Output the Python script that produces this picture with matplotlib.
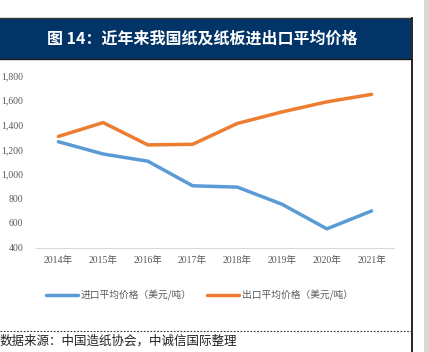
import matplotlib
matplotlib.use("Agg")
import matplotlib.pyplot as plt
from matplotlib.patches import Rectangle
from matplotlib.lines import Line2D

years = ["2014年", "2015年", "2016年", "2017年", "2018年", "2019年", "2020年", "2021年"]
import_price = [1262, 1162, 1103, 903, 892, 752, 552, 698]
export_price = [1305, 1418, 1236, 1241, 1411, 1505, 1587, 1648]
import_label = "进口平均价格（美元/吨）"
export_label = "出口平均价格（美元/吨）"
title = "图 14：近年来我国纸及纸板进出口平均价格"
source = "数据来源：中国造纸协会，中诚信国际整理"

W, H = 429, 352
fig = plt.figure(figsize=(W / 100, H / 100), dpi=100)
fig.patch.set_facecolor("white")

def fx(x):
    return x / W

def fy(y):
    return 1 - y / H

cjk = ["Liberation Serif", "Noto Sans CJK SC"]
gray = "#595959"

# header band
fig.add_artist(Rectangle((fx(0), fy(58.5)), fx(411), 40.5 / H,
                         transform=fig.transFigure, facecolor="#023467",
                         edgecolor="none"))
fig.add_artist(Line2D([fx(0), fx(411)], [fy(18.3), fy(18.3)], color="#3a3a3a", lw=1))
fig.add_artist(Line2D([fx(0), fx(411)], [fy(58.5), fy(58.5)], color="#1a1a1a", lw=1))
fig.text(fx(202), fy(38.5), title, color="white", fontsize=11.5, fontweight="bold",
         ha="center", va="center", family=["Noto Sans CJK SC"])

# frame lines on the right and the source separator
fig.add_artist(Line2D([fx(411.5), fx(411.5)], [fy(18), fy(352)], color="black", lw=1.2))
fig.add_artist(Rectangle((fx(424), 0), fx(5), 1, transform=fig.transFigure,
                         facecolor="#d9d9d9", edgecolor="none"))
fig.add_artist(Line2D([fx(0), fx(411)], [fy(330.5), fy(330.5)], color="#333333",
                      lw=0.8, ls=(0, (1.5, 1.5))))
fig.text(fx(0), fy(341), source, color="#222222", fontsize=9, style="italic",
         ha="left", va="center", family=["Noto Sans CJK SC"])

# chart
ax = fig.add_axes([fx(36), fy(247.5), fx(394 - 36), (247.5 - 75.7) / H])
x = range(len(years))
ax.plot(x, import_price, color="#5B9BD5", lw=2.5, solid_capstyle="round")
ax.plot(x, export_price, color="#ED7D31", lw=2.5, solid_capstyle="round")
ax.set_xlim(-0.5, len(years) - 0.5)
ax.set_ylim(400, 1800)
ax.set_yticks(range(400, 1801, 200))
ax.set_yticklabels([f"{v:,}" for v in range(400, 1801, 200)], family="Liberation Serif",
                   fontsize=7, color=gray)
ax.set_xticks(list(x))
ax.set_xticklabels(years, family=cjk, fontsize=7, color=gray)
for s in ["top", "right", "left"]:
    ax.spines[s].set_visible(False)
ax.spines["bottom"].set_color("#d9d9d9")
ax.tick_params(axis="both", length=0)
ax.tick_params(axis="y", pad=9)
ax.tick_params(axis="x", pad=6)

# legend
fig.add_artist(Line2D([fx(46), fx(78)], [fy(295), fy(295)], color="#5B9BD5", lw=2.5,
                      solid_capstyle="round"))
fig.text(fx(81), fy(295), import_label, color=gray, fontsize=7, va="center",
         family=["Noto Sans CJK SC"])
fig.add_artist(Line2D([fx(207), fx(239)], [fy(295), fy(295)], color="#ED7D31", lw=2.5,
                      solid_capstyle="round"))
fig.text(fx(242), fy(295), export_label, color=gray, fontsize=7, va="center",
         family=["Noto Sans CJK SC"])

fig.savefig("out.png", dpi=100)
